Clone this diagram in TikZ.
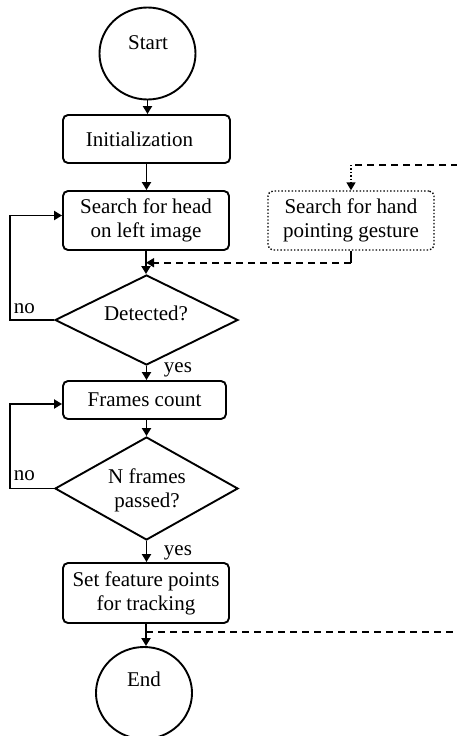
\documentclass[tikz,border=0pt]{standalone}
\usepackage{fontspec}
\setmainfont{Liberation Serif}
\usetikzlibrary{shapes.geometric,arrows.meta}
\begin{document}
\begin{tikzpicture}[x=1pt,y=-1pt,
  line width=1.9pt,
  every node/.style={font=\fontsize{21}{24}\selectfont},
  box/.style={draw, rounded corners=5pt, inner sep=0pt, align=center},
  term/.style={draw, ellipse, inner sep=0pt, minimum width=96pt, minimum height=92pt},
  decis/.style={draw, diamond, inner sep=0pt, minimum width=183pt},
  lbl/.style={inner sep=0pt},
  arr/.style={-{Triangle[length=8pt,width=9pt]}},
  dsh/.style={line width=1.6pt, dash pattern=on 7pt off 5pt},
  dotbox/.style={draw, dotted, line width=1.4pt, rounded corners=5pt, inner sep=0pt, align=center},
]
\useasboundingbox (0,0) rectangle (457,736);
\clip (0,0) rectangle (457,736);

% nodes
\node[term] (start) at (147.5,53.5) {};
\node[lbl, anchor=base] (tstart) at (148,49) {Start};
\node[box, minimum width=167pt, minimum height=48pt] (init) at (146.5,139) {Initialization\hspace{14pt}};
\node[box, minimum width=166pt, minimum height=59pt] (search) at (146,220.5) {Search for head\\on left image};
\node[dotbox, minimum width=166pt, minimum height=59pt] (hand) at (351,220.5) {Search for hand\\pointing gesture};
\node[decis, minimum height=90pt] (det) at (146.5,320) {};
\node[lbl, anchor=base] (tdet) at (146,320) {Detected?};
\node[box, minimum width=163pt, minimum height=38pt] (frames) at (144.5,400) {Frames count};
\node[decis, minimum height=103pt] (nfr) at (146.5,488.5) {};
\node[lbl, align=center] (tnfr) at (147,490) {N frames\\passed?};
\node[box, minimum width=166pt, minimum height=60pt] (setf) at (146,593) {Set feature points\\for tracking};
\node[term] (end) at (144,693) {};
\node[lbl, anchor=base] (tend) at (144,686) {End};

% labels
\node[lbl, anchor=base west] (yes1) at (163,372) {yes};
\node[lbl, anchor=base west] (yes2) at (163,555) {yes};
\node[lbl, anchor=base west] (no1) at (13,313) {no};
\node[lbl, anchor=base west] (no2) at (13,480) {no};

% helper coordinates
\coordinate (lx) at (10,0);
\coordinate (rt1) at (470,165);
\coordinate (rt2) at (470,632);

% main flow
\draw[arr] (start.south) -- (start.south |- init.north);
\draw[arr] (init.south) -- (init.south |- search.north);
\draw[arr] (search.south) -- (search.south |- det.north);
\draw[arr] (det.south) -- (det.south |- frames.north);
\draw[arr] (frames.south -| nfr.north) -- (nfr.north);
\draw[arr] (nfr.south) -- (nfr.south |- setf.north);
\draw[arr] (setf.south) -- (setf.south |- end.north);

% loops
\draw[arr] (det.west) -- (det.west -| lx) |- ([yshift=5pt]search.west);
\draw[arr] (nfr.west) -- (nfr.west -| lx) |- ([yshift=-4pt]frames.west);

% dashed connections
\draw[dsh] (rt1) -- (rt1 -| hand.north);
\draw[arr, dotted, line width=1.4pt] (rt1 -| hand.north) -- (hand.north);
\draw[line width=1.6pt] (hand.south) -- ++(0,12) coordinate (hb);
\draw[dsh, arr] (hb) -- (hb -| search.south);
\draw[dsh] (setf.south |- rt2) -- (rt2);
\end{tikzpicture}
\end{document}
